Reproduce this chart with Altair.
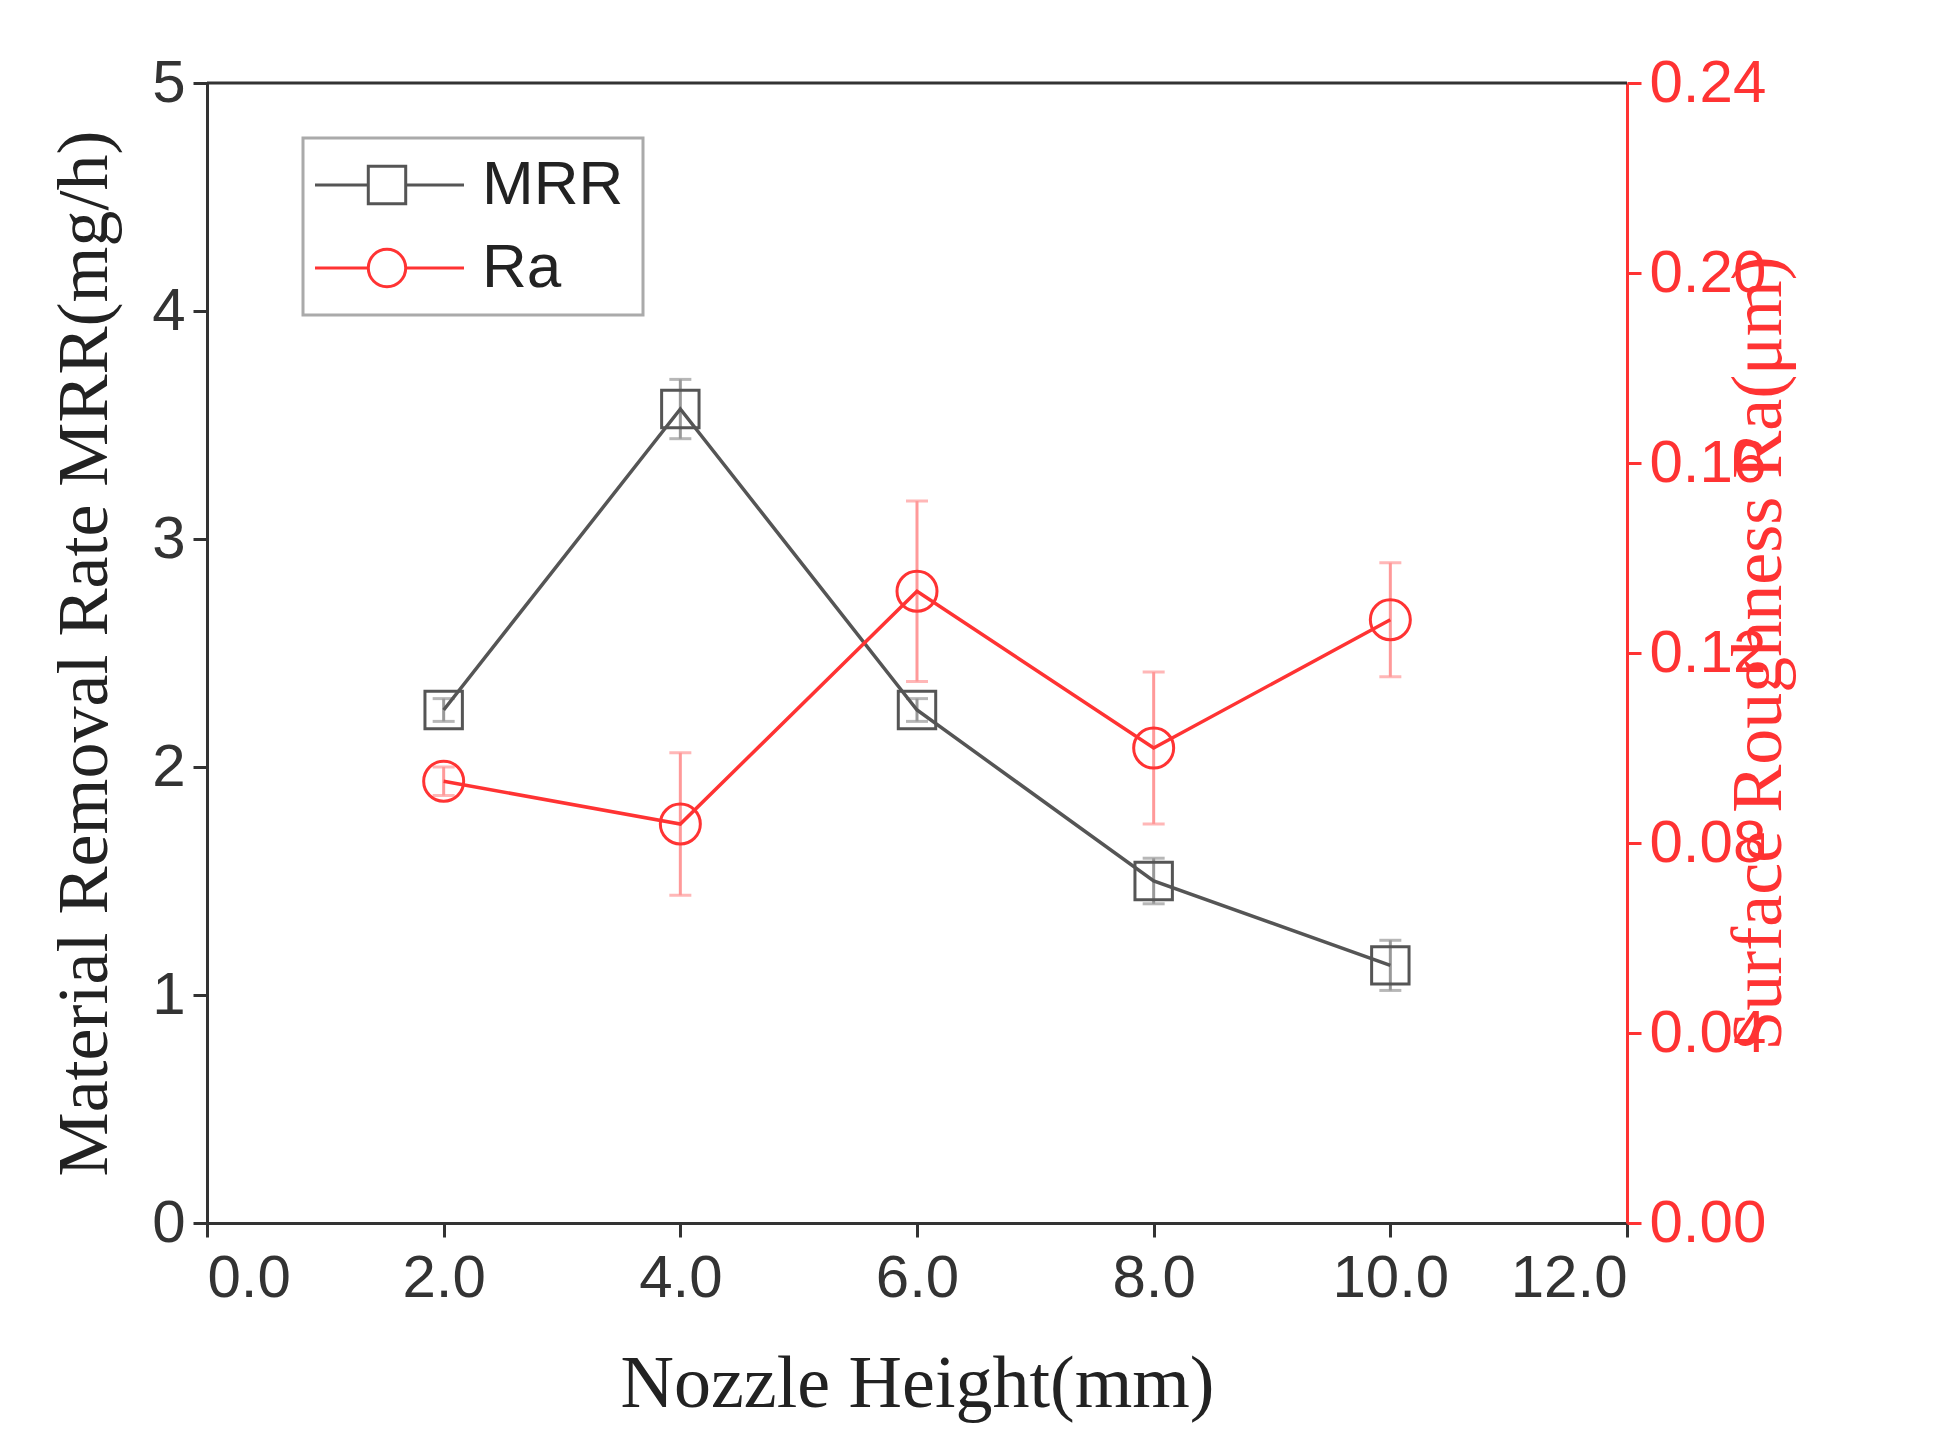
import altair as alt
import pandas as pd

# values
heights = [2, 4, 6, 8, 10]
mrr = [2.25, 3.57, 2.25, 1.50, 1.13]
mrr_err = [0.05, 0.13, 0.05, 0.10, 0.11]
ra = [0.093, 0.084, 0.133, 0.100, 0.127]
ra_err = [0.003, 0.015, 0.019, 0.016, 0.012]

GRAY = "#555555"
RED = "#ff3333"
LABEL_FONT = "Liberation Sans"
TITLE_FONT = "Liberation Serif"

df = pd.DataFrame({"h": heights, "mrr": mrr, "mrr_lo": [m - e for m, e in zip(mrr, mrr_err)],
                   "mrr_hi": [m + e for m, e in zip(mrr, mrr_err)], "ra": ra,
                   "ra_lo": [r - e for r, e in zip(ra, ra_err)],
                   "ra_hi": [r + e for r, e in zip(ra, ra_err)]})

x_enc = alt.X("h:Q", scale=alt.Scale(domain=[0, 12], nice=False),
              axis=alt.Axis(values=list(range(0, 13, 2)), title="Nozzle Height(mm)",
                            labelFontSize=60, labelColor="#333", labelFont=LABEL_FONT,
                            titleFont=TITLE_FONT, titleFontSize=74, titleFontWeight="normal",
                            titleColor="#222", titlePadding=40, domainColor="#333", domainWidth=3,
                            tickColor="#333", tickWidth=3, tickSize=14, labelPadding=12, grid=False))

left_scale = alt.Scale(domain=[0, 5], nice=False)
left_axis = alt.Axis(values=[0, 1, 2, 3, 4, 5], format="d", title="Material Removal Rate MRR(mg/h)",
                     labelFontSize=60, labelColor="#333", labelFont=LABEL_FONT,
                     titleFont=TITLE_FONT, titleFontSize=72, titleFontWeight="normal",
                     titleColor="#222", titlePadding=30, domainColor="#333", domainWidth=3,
                     tickColor="#333", tickWidth=3, tickSize=14, labelPadding=8, grid=False)
right_scale = alt.Scale(domain=[0, 0.24], nice=False)
right_axis = alt.Axis(values=[0, 0.04, 0.08, 0.12, 0.16, 0.2, 0.24], format=".2f", orient="right",
                      title="Surface Roughness Ra(μm)", titleAngle=270, labelFontSize=60, labelColor=RED,
                      labelFont=LABEL_FONT, titleFont=TITLE_FONT, titleFontSize=72,
                      titleFontWeight="normal", titleColor=RED, titlePadding=30,
                      domainColor=RED, domainWidth=3, tickColor=RED, tickWidth=3, tickSize=14,
                      labelPadding=8, grid=False)

base = alt.Chart(df)

mrr_layer = alt.layer(
    base.mark_rule(color="#999", strokeWidth=3).encode(x=x_enc, y=alt.Y("mrr_lo:Q", scale=left_scale, axis=left_axis), y2="mrr_hi:Q"),
    base.mark_tick(color="#999", thickness=3, size=22, orient="horizontal").encode(x="h:Q", y="mrr_lo:Q"),
    base.mark_tick(color="#999", thickness=3, size=22, orient="horizontal").encode(x="h:Q", y="mrr_hi:Q"),
    base.mark_line(color=GRAY, strokeWidth=3.5).encode(x="h:Q", y="mrr:Q"),
    base.mark_point(shape="square", size=1400, filled=False, fillOpacity=0,
                    color=GRAY, strokeWidth=3, opacity=1).encode(x="h:Q", y="mrr:Q"),
)

ra_layer = alt.layer(
    base.mark_rule(color="#ff9999", strokeWidth=3).encode(x="h:Q", y=alt.Y("ra_lo:Q", scale=right_scale, axis=right_axis), y2="ra_hi:Q"),
    base.mark_tick(color="#ff9999", thickness=3, size=22, orient="horizontal").encode(x="h:Q", y="ra_lo:Q"),
    base.mark_tick(color="#ff9999", thickness=3, size=22, orient="horizontal").encode(x="h:Q", y="ra_hi:Q"),
    base.mark_line(color=RED, strokeWidth=3.5).encode(x="h:Q", y="ra:Q"),
    base.mark_point(shape="circle", size=1600, filled=False, fillOpacity=0,
                    color=RED, strokeWidth=3, opacity=1).encode(x="h:Q", y="ra:Q"),
)

# hand-drawn legend box and top frame line in plot pixel coordinates
legend_names = ["MRR", "Ra"]
legend_colors = [GRAY, RED]
legend_shapes = ["square", "circle"]
leg = pd.DataFrame({"name": legend_names, "color": legend_colors, "shape": legend_shapes,
                    "py": [102, 185]})
lb = alt.Chart(leg)
one = alt.Chart(pd.DataFrame({"a": [0]}))
legend = alt.layer(
    one.mark_rule(color="#333", strokeWidth=3).encode(x=alt.value(0), x2=alt.value(1420), y=alt.value(0)),
    one.mark_rect(fill="white", stroke="#aaa", strokeWidth=3).encode(
        x=alt.value(96), x2=alt.value(436), y=alt.value(55), y2=alt.value(232)),
    lb.mark_rule(strokeWidth=3).encode(x=alt.value(108), x2=alt.value(257), y=alt.Y("py:Q", scale=None),
                                       color=alt.Color("color:N", scale=None)),
    lb.mark_point(size=1400, filled=True, fill="white", strokeWidth=3, opacity=1).encode(
        x=alt.value(180), y=alt.Y("py:Q", scale=None), stroke=alt.Color("color:N", scale=None),
        shape=alt.Shape("shape:N", scale=None)),
    lb.mark_text(align="left", baseline="middle", fontSize=62, font=LABEL_FONT, color="#222").encode(
        x=alt.value(275), y=alt.Y("py:Q", scale=None), text="name:N"),
)

chart = (
    alt.layer(alt.layer(mrr_layer, legend), ra_layer)
    .resolve_scale(y="independent")
    .properties(width=1420, height=1140, padding={"left": 40, "top": 45, "right": 10, "bottom": 10})
    .configure_view(strokeWidth=0)
    .configure(background="white")
)

chart.save("out.html", embed_options={"renderer": "svg", "actions": False})
